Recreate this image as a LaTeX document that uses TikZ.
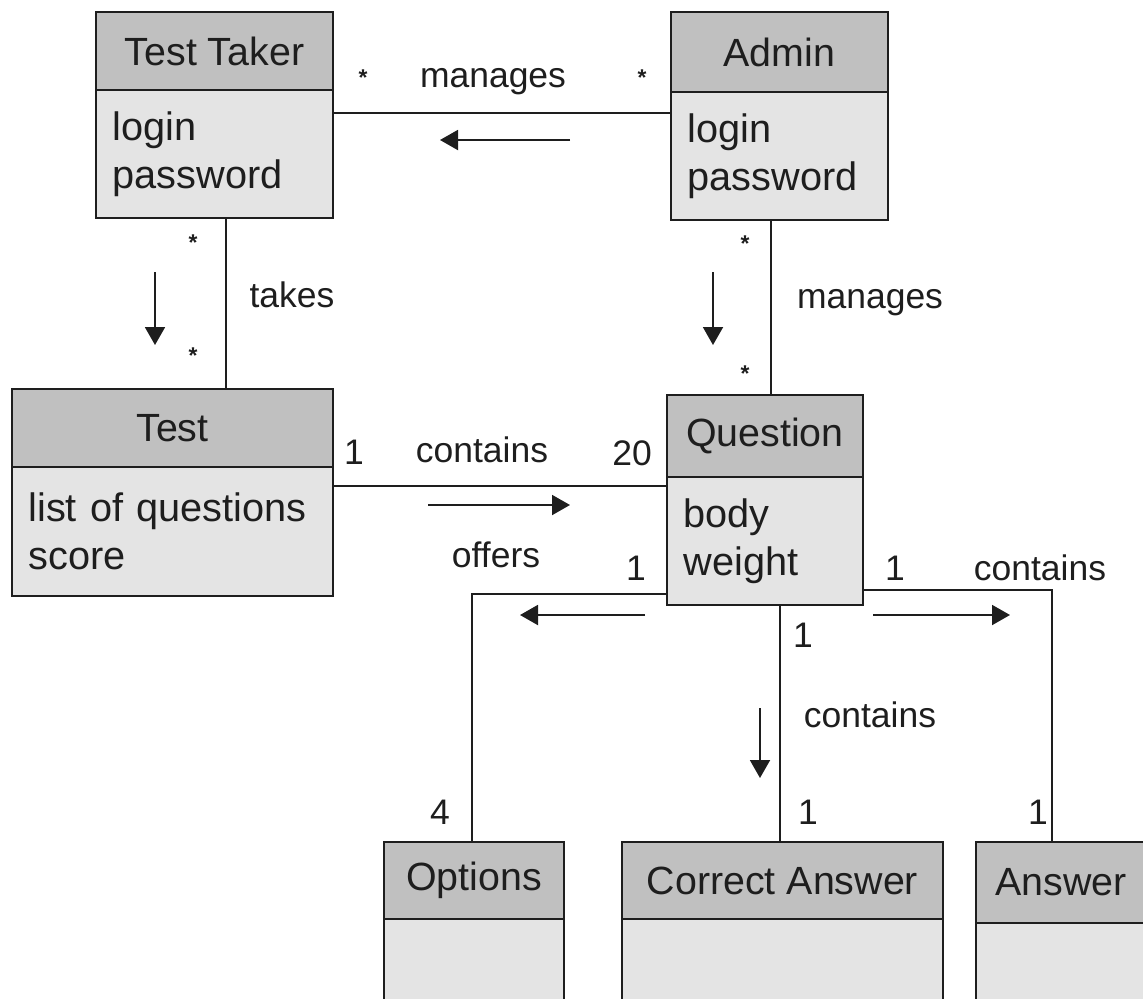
\documentclass[tikz,border=0pt]{standalone}
\usepackage{fontspec}
\setmainfont{Liberation Sans}
\usepackage{xcolor}
\usepackage{tikz}
\usetikzlibrary{arrows.meta}
\definecolor{umlInk}{HTML}{1E1E1E}
\definecolor{umlHead}{HTML}{C0C0C0}
\definecolor{umlBody}{HTML}{E4E4E4}
\tikzset{
  head/.style  ={draw=umlInk, fill=umlHead, line width=1.4pt, anchor=north west, inner sep=0pt, outer sep=0pt,
                 text=umlInk, font=\fontsize{22.4}{27}\selectfont},
  attrs/.style ={draw=umlInk, fill=umlBody, line width=1.4pt, anchor=north west, align=left, inner xsep=0.33cm,
                 inner ysep=0pt, outer sep=0pt, text=umlInk, font=\fontsize{22.6}{27.3}\selectfont},
  assoc/.style ={line width=1.1pt, umlInk},
  dirarr/.style={-{Triangle[length=0.36cm,width=0.4cm]}, line width=1.1pt, umlInk},
  lbl/.style   ={anchor=base, inner sep=0pt, text=umlInk, font=\fontsize{20.2}{24}\selectfont},
  mult/.style  ={lbl, font=\fontsize{13}{15}\selectfont\bfseries},
}

\begin{document}
\begin{tikzpicture}[x=0.02cm, y=-0.02cm]
\useasboundingbox (0,0) rectangle (1143,998);
\clip (0,0) rectangle (1143,998);

% ---- classes ----
\node[head, minimum width=4.74cm, minimum height=1.56cm] (takerH) at (96,12) {Test Taker};
\node[attrs, text width=4.08cm, minimum height=2.56cm] (taker) at (takerH.south west) {login\\password};

\node[head, minimum width=4.34cm, minimum height=1.6cm] (adminH) at (671,12) {Admin};
\node[attrs, text width=3.68cm, minimum height=2.56cm] (admin) at (adminH.south west) {login\\password};

\node[head, minimum width=6.42cm, minimum height=1.56cm] (testH) at (12,389) {Test};
\node[attrs, text width=5.76cm, minimum height=2.58cm] (test) at (testH.south west) {list of questions\\score};

\node[head, minimum width=3.92cm, minimum height=1.64cm] (questionH) at (667,395) {Question};
\node[attrs, text width=3.26cm, minimum height=2.56cm] (question) at (questionH.south west) {body\\weight};

\node[head, minimum width=3.6cm, minimum height=1.54cm] (optionsH) at (384,842) {Options};
\node[attrs, text width=2.94cm, minimum height=1.9cm] (options) at (optionsH.south west) {};

\node[head, minimum width=6.42cm, minimum height=1.54cm] (correctH) at (622,842) {Correct Answer};
\node[attrs, text width=5.76cm, minimum height=1.9cm] (correct) at (correctH.south west) {};

\node[head, minimum width=3.4cm, minimum height=1.62cm] (answerH) at (976,842) {Answer};
\node[attrs, text width=2.74cm, minimum height=1.9cm] (answer) at (answerH.south west) {};

% ---- associations ----
\draw[assoc] (taker.east |- 0,113) -- (admin.west |- 0,113);
\draw[assoc] (taker.south -| 226,0) -- (testH.north -| 226,0);
\draw[assoc] (admin.south -| 771,0) -- (questionH.north -| 771,0);
\draw[assoc] (test.east |- 0,486) -- (question.west |- 0,486);
\draw[assoc] (question.west |- 0,594) -| (optionsH.north -| 472,0);
\draw[assoc] (question.south -| 780,0) -- (correctH.north -| 780,0);
\draw[assoc] (question.east |- 0,590) -| (answerH.north -| 1052,0);

% direction arrows
\draw[dirarr] (570,140) -- (440,140);
\draw[dirarr] (155,272) -- (155,345);
\draw[dirarr] (713,272) -- (713,345);
\draw[dirarr] (428,505) -- (570,505);
\draw[dirarr] (645,615) -- (520,615);
\draw[dirarr] (873,615) -- (1010,615);
\draw[dirarr] (760,708) -- (760,778);

% ---- labels ----
\node[mult] (mTop1)  at (363,85)  {*};
\node[lbl]  (mTop)   at (493,87)  {manages};
\node[mult] (mTop2)  at (642,85)  {*};
\node[mult] (tkA)    at (193,250) {*};
\node[mult] (tkB)    at (193,363) {*};
\node[lbl]  (takes)  at (292,307) {takes};
\node[mult] (mQA)    at (745,251) {*};
\node[mult] (mQB)    at (745,381) {*};
\node[lbl]  (mQ)     at (870,308) {manages};
\node[lbl]  (cT1)    at (354,464) {1};
\node[lbl]  (cT)     at (482,462) {contains};
\node[lbl]  (cT20)   at (632,465) {20};
\node[lbl]  (offers) at (496,567) {offers};
\node[lbl]  (oQ1)    at (636,580) {1};
\node[lbl]  (aQ1)    at (895,580) {1};
\node[lbl]  (cA)     at (1040,580) {contains};
\node[lbl]  (cQ1)    at (803,647) {1};
\node[lbl]  (cC)     at (870,727) {contains};
\node[lbl]  (o4)     at (440,824) {4};
\node[lbl]  (c1)     at (808,824) {1};
\node[lbl]  (a1)     at (1038,824) {1};
\end{tikzpicture}
\end{document}
